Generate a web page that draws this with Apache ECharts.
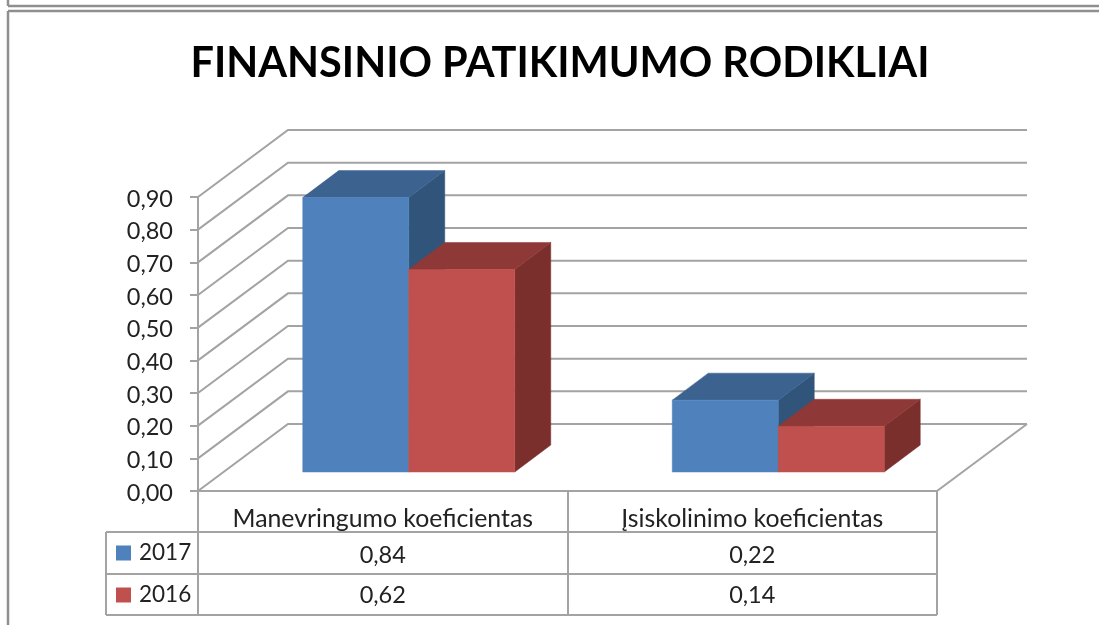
<!DOCTYPE html>
<html>
<head>
<meta charset="utf-8">
<script src="https://cdn.jsdelivr.net/npm/echarts@6/dist/echarts.min.js"></script>
<style>
  html, body { margin: 0; padding: 0; background: #fff; }
</style>
</head>
<body>
<div id="main" style="width: 1099px; height: 625px;"></div>
<script>
const titleText = 'FINANSINIO PATIKIMUMO RODIKLIAI';
const categories = ['Manevringumo koeficientas', 'Įsiskolinimo koeficientas'];
const seriesNames = ['2017', '2016'];
const values2017 = [0.84, 0.22];
const values2016 = [0.62, 0.14];
const yTicks = [0, 0.1, 0.2, 0.3, 0.4, 0.5, 0.6, 0.7, 0.8, 0.9];

const FONT = 'Lato';
const LINE = '#a3a3a3';
const TEXT = '#222';
// perspective offsets of the fake 3d box
const WALL_DX = 90, WALL_DY = -67;
const BAR_W = 106, BAR_DX = 36, BAR_DY = -27;
const BAR_SHIFT_X = 26, BAR_SHIFT_Y = -19;

const fmt = v => v.toFixed(2).replace('.', ',');

function poly(points, color) {
  return { type: 'polygon', shape: { points }, style: { fill: color, stroke: color, lineWidth: 0.5 } };
}

function barRenderer(seriesIdx, front, top, side) {
  return function (params, api) {
    const center = api.coord([api.value(0), 0]);
    const high = api.coord([api.value(0), api.value(1)]);
    const x0 = center[0] + BAR_SHIFT_X + (seriesIdx - 1) * BAR_W;
    const x1 = x0 + BAR_W;
    const yb = center[1] + BAR_SHIFT_Y;
    const yt = high[1] + BAR_SHIFT_Y;
    return {
      type: 'group',
      children: [
        poly([[x1, yt], [x1 + BAR_DX, yt + BAR_DY], [x1 + BAR_DX, yb + BAR_DY], [x1, yb]], side),
        poly([[x0, yt], [x0 + BAR_DX, yt + BAR_DY], [x1 + BAR_DX, yt + BAR_DY], [x1, yt]], top),
        poly([[x0, yt], [x1, yt], [x1, yb], [x0, yb]], front)
      ]
    };
  };
}

function wallRenderer(params, api) {
  const cs = params.coordSys;
  const y = api.coord([0, api.value(0)])[1];
  const left = cs.x, right = cs.x + cs.width;
  const children = [{
    type: 'polyline',
    shape: { points: [[left, y], [left + WALL_DX, y + WALL_DY], [right + WALL_DX, y + WALL_DY]] },
    style: { fill: null, stroke: LINE, lineWidth: 2 }
  }];
  // floor: right hand edge
  if (api.value(0) === 0) {
    children.push({
      type: 'line',
      shape: { x1: right, y1: y, x2: right + WALL_DX, y2: y + WALL_DY },
      style: { stroke: LINE, lineWidth: 2 }
    });
  }
  return { type: 'group', children };
}

function cellRenderer(rowY) {
  return function (params, api) {
    const c = api.coord([api.value(0), 0]);
    return {
      type: 'text',
      x: c[0], y: rowY,
      style: {
        text: fmt(api.value(1)), fill: TEXT,
        font: '23.5px ' + FONT, textAlign: 'center', textVerticalAlign: 'middle'
      }
    };
  };
}

// table + outer frame lines
const tableLines = [
  [198, 491, 937, 491], [106, 532, 937, 532], [106, 574, 937, 574], [106, 615, 937, 615],
  [106, 532, 106, 615], [198, 491, 198, 615], [568, 491, 568, 615], [937, 491, 937, 615]
].map(l => ({
  type: 'line', silent: true,
  shape: { x1: l[0], y1: l[1], x2: l[2], y2: l[3] },
  style: { stroke: LINE, lineWidth: 2 }
}));

const frameLines = [
  [8, 11, 1099, 11], [8, 11, 8, 625], [8, 0, 8, 6], [8, 6, 1099, 6]
].map(l => ({
  type: 'line', silent: true,
  shape: { x1: l[0], y1: l[1], x2: l[2], y2: l[3] },
  style: { stroke: '#8f8f8f', lineWidth: 2.5 }
}));

const chart = echarts.init(document.getElementById('main'), null, { renderer: 'canvas' });
chart.setOption({
  backgroundColor: '#fff',
  animation: false,
  title: {
    text: titleText,
    left: 555, top: 38,
    textAlign: 'center',
    textStyle: { fontFamily: FONT, fontSize: 41.5, fontWeight: 'bold', color: '#000' }
  },
  legend: {
    data: seriesNames,
    orient: 'vertical',
    left: 116, top: 538,
    padding: 0,
    itemWidth: 15, itemHeight: 15, itemGap: 12,
    icon: 'rect',
    selectedMode: false,
    textStyle: { fontFamily: FONT, fontSize: 22.5, color: TEXT, padding: [2, 0, 0, 3], lineHeight: 28 }
  },
  graphic: tableLines.concat(frameLines),
  grid: { left: 198, width: 739, top: 197, height: 294 },
  xAxis: {
    type: 'category',
    data: categories,
    axisTick: { show: false },
    axisLine: { show: false },
    axisLabel: { fontFamily: FONT, fontSize: 24.8, color: TEXT, margin: 16, interval: 0 }
  },
  yAxis: {
    type: 'value',
    min: 0, max: 0.9, interval: 0.1,
    splitLine: { show: false },
    axisLine: { show: true, lineStyle: { color: LINE, width: 2 } },
    axisTick: { show: true, length: 8, lineStyle: { color: LINE, width: 2 } },
    axisLabel: {
      margin: 25,
      formatter: v => '{t|' + fmt(v) + '}',
      rich: { t: { fontFamily: FONT, fontSize: 23.5, color: TEXT, padding: [4, 0, 0, 0] } }
    }
  },
  series: [
    {
      name: 'walls', type: 'custom', silent: true, clip: false,
      encode: { y: 0 },
      data: yTicks.map(v => [v]),
      renderItem: wallRenderer
    },
    {
      name: seriesNames[0], type: 'custom', clip: false,
      itemStyle: { color: '#4f81bd' },
      encode: { x: 0, y: 1 },
      data: values2017.map((v, i) => [i, v]),
      renderItem: barRenderer(0, '#4f81bd', '#3c6390', '#31547b')
    },
    {
      name: seriesNames[1], type: 'custom', clip: false,
      itemStyle: { color: '#c0504d' },
      encode: { x: 0, y: 1 },
      data: values2016.map((v, i) => [i, v]),
      renderItem: barRenderer(1, '#c0504d', '#8e3937', '#7a2f2d')
    },
    {
      name: 'row2017', type: 'custom', clip: false, silent: true,
      encode: { x: 0, y: 1 },
      data: values2017.map((v, i) => [i, v]),
      renderItem: cellRenderer(555)
    },
    {
      name: 'row2016', type: 'custom', clip: false, silent: true,
      encode: { x: 0, y: 1 },
      data: values2016.map((v, i) => [i, v]),
      renderItem: cellRenderer(595)
    }
  ]
});
</script>
</body>
</html>
